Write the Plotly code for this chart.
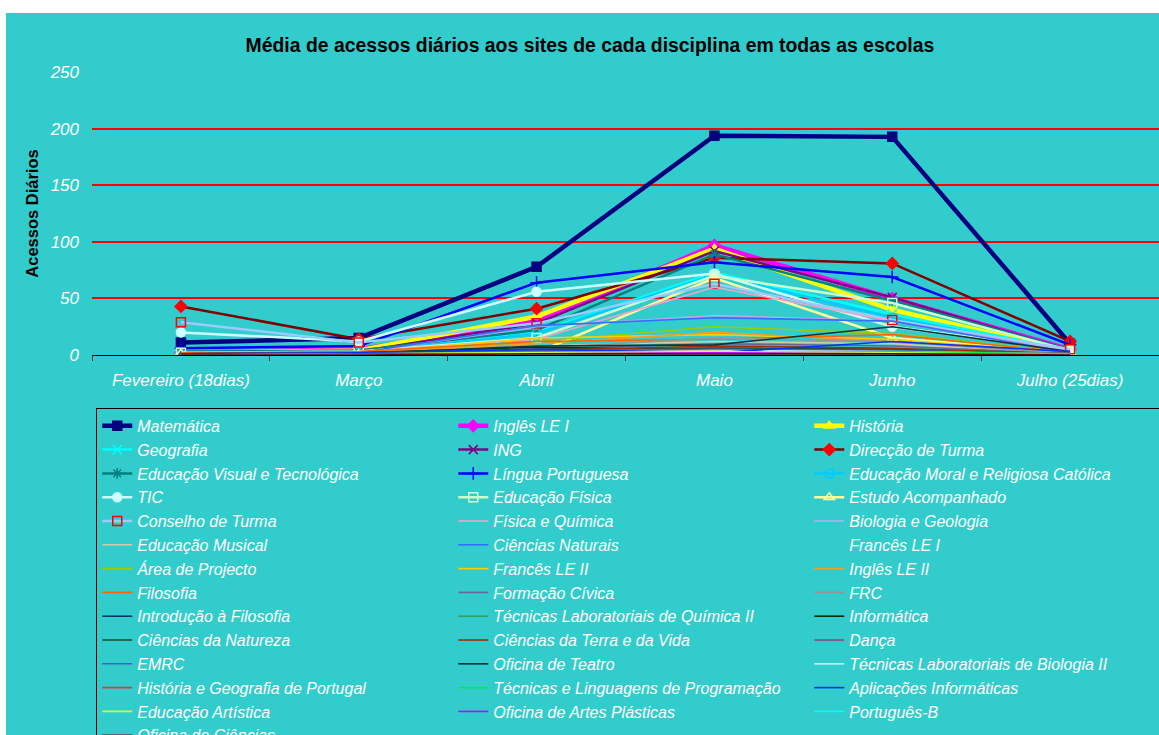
import plotly.graph_objects as go

months = ["Fevereiro (18dias)", "Março", "Abril", "Maio", "Junho", "Julho (25dias)"]

# media de acessos diarios por disciplina
matematica = [11, 15, 78, 194, 193, 10]
ingles_le_i = [2, 5, 30, 97, 50, 5]
historia = [2, 4, 34, 94, 40, 3]
geografia = [3, 4, 20, 73, 36, 4]
ing = [2, 3, 28, 92, 51, 4]
direccao_turma = [43, 14, 41, 86, 81, 12]
evt = [3, 4, 22, 89, 48, 5]
lingua_portuguesa = [6, 8, 64, 82, 69, 9]
emrc_catolica = [1, 2, 19, 71, 33, 3]
tic = [20, 12, 56, 72, 25, 4]
ed_fisica = [2, 3, 15, 70, 46, 4]
estudo_acompanhado = [1, 1, 2, 68, 15, 2]
conselho_turma = [29, 11, 28, 63, 31, 5]
fisica_quimica = [1, 3, 14, 60, 30, 3]
biologia_geologia = [1, 2, 25, 35, 30, 3]
ed_musical = [1, 2, 8, 12, 10, 1]
ciencias_naturais = [1, 2, 26, 33, 30, 2]
frances_le_i = [1, 1, 3, 5, 3, 1]
area_projecto = [1, 2, 12, 25, 19, 2]
frances_le_ii = [1, 2, 15, 18, 14, 2]
ingles_le_ii = [1, 2, 10, 20, 12, 1]
filosofia = [2, 3, 12, 14, 18, 2]
formacao_civica = [1, 1, 5, 10, 8, 1]
frc = [0, 1, 6, 15, 12, 1]
intro_filosofia = [0, 1, 4, 6, 5, 1]
tlq_ii = [0, 1, 3, 5, 4, 0]
informatica = [1, 2, 7, 4, 3, 1]
ciencias_natureza = [1, 2, 5, 6, 5, 1]
ctv = [0, 1, 4, 8, 6, 1]
danca = [0, 0, 2, 3, 2, 0]
emrc = [1, 1, 4, 5, 4, 1]
oficina_teatro = [0, 1, 8, 9, 25, 3]
tlb_ii = [0, 1, 2, 4, 3, 1]
hgp = [1, 2, 3, 3, 2, 1]
tlp = [0, 1, 2, 2, 3, 1]
aplicacoes_inf = [1, 2, 5, 2, 12, 3]
ed_artistica = [0, 1, 2, 3, 2, 0]
oficina_artes = [0, 1, 1, 2, 1, 0]
portugues_b = [0, 0, 1, 1, 1, 0]
oficina_ciencias = [0, 0, 1, 1, 1, 0]

series = [
    ("Matemática", matematica),
    ("Inglês LE I", ingles_le_i),
    ("História", historia),
    ("Geografia", geografia),
    ("ING", ing),
    ("Direcção de Turma", direccao_turma),
    ("Educação Visual e Tecnológica", evt),
    ("Língua Portuguesa", lingua_portuguesa),
    ("Educação Moral e Religiosa Católica", emrc_catolica),
    ("TIC", tic),
    ("Educação Física", ed_fisica),
    ("Estudo Acompanhado", estudo_acompanhado),
    ("Conselho de Turma", conselho_turma),
    ("Física e Química", fisica_quimica),
    ("Biologia e Geologia", biologia_geologia),
    ("Educação Musical", ed_musical),
    ("Ciências Naturais", ciencias_naturais),
    ("Francês LE I", frances_le_i),
    ("Área de Projecto", area_projecto),
    ("Francês LE II", frances_le_ii),
    ("Inglês LE II", ingles_le_ii),
    ("Filosofia", filosofia),
    ("Formação Cívica", formacao_civica),
    ("FRC", frc),
    ("Introdução à Filosofia", intro_filosofia),
    ("Técnicas Laboratoriais de Química II", tlq_ii),
    ("Informática", informatica),
    ("Ciências da Natureza", ciencias_natureza),
    ("Ciências da Terra e da Vida", ctv),
    ("Dança", danca),
    ("EMRC", emrc),
    ("Oficina de Teatro", oficina_teatro),
    ("Técnicas Laboratoriais de Biologia II", tlb_ii),
    ("História e Geografia de Portugal", hgp),
    ("Técnicas e Linguagens de Programação", tlp),
    ("Aplicações Informáticas", aplicacoes_inf),
    ("Educação Artística", ed_artistica),
    ("Oficina de Artes Plásticas", oficina_artes),
    ("Português-B", portugues_b),
    ("Oficina de Ciências", oficina_ciencias),
]

# line colour, line width, marker symbol, marker colour
marked = {
    "Matemática": ("#000080", 4.5, "square", "#000080"),
    "Inglês LE I": ("#FF00FF", 4.5, "diamond", "#FF00FF"),
    "História": ("#FFFF00", 4.5, "triangle-up", "#FFFF00"),
    "Geografia": ("#00FFFF", 2.5, "x-thin", "#00FFFF"),
    "ING": ("#800080", 2.5, "x-thin", "#800080"),
    "Direcção de Turma": ("#800000", 2.5, "diamond", "#FF0000"),
    "Educação Visual e Tecnológica": ("#008080", 2.5, "asterisk", "#008080"),
    "Língua Portuguesa": ("#0000FF", 2.5, "cross-thin", "#0000FF"),
    "Educação Moral e Religiosa Católica": ("#00CCFF", 2.5, "circle-open", "#00CCFF"),
    "TIC": ("#CCFFFF", 2.5, "circle", "#CCFFFF"),
    "Educação Física": ("#CCFFCC", 2.5, "square-open", "#CCFFCC"),
    "Estudo Acompanhado": ("#FFFF99", 2.5, "triangle-up-open", "#FFFF99"),
    "Conselho de Turma": ("#99CCFF", 2.5, "square-open", "#FF0000"),
}

thin_colors = {
    "Física e Química": "#E8A6CC",
    "Biologia e Geologia": "#C0A8F0",
    "Educação Musical": "#D0CCA8",
    "Ciências Naturais": "#3370FF",
    "Francês LE I": "#33CCCC",
    "Área de Projecto": "#99CC00",
    "Francês LE II": "#FFCC00",
    "Inglês LE II": "#F0A020",
    "Filosofia": "#FF6600",
    "Formação Cívica": "#666699",
    "FRC": "#969696",
    "Introdução à Filosofia": "#003366",
    "Técnicas Laboratoriais de Química II": "#339966",
    "Informática": "#003300",
    "Ciências da Natureza": "#1F4F35",
    "Ciências da Terra e da Vida": "#993300",
    "Dança": "#804D80",
    "EMRC": "#3D66C0",
    "Oficina de Teatro": "#103333",
    "Técnicas Laboratoriais de Biologia II": "#CCF2F2",
    "História e Geografia de Portugal": "#D04040",
    "Técnicas e Linguagens de Programação": "#00EE44",
    "Aplicações Informáticas": "#0033FF",
    "Educação Artística": "#CCFF33",
    "Oficina de Artes Plásticas": "#CC00FF",
    "Português-B": "#00FFFF",
    "Oficina de Ciências": "#700000",
}

fig = go.Figure()
for name, values in series:
    if name in marked:
        color, width, symbol, mcolor = marked[name]
        fig.add_trace(go.Scatter(
            x=months, y=values, name=name, mode="lines+markers",
            line=dict(color=color, width=width),
            marker=dict(symbol=symbol, size=9, color=mcolor,
                        line=dict(color=mcolor, width=1.5)),
        ))
    else:
        fig.add_trace(go.Scatter(
            x=months, y=values, name=name, mode="lines",
            line=dict(color=thin_colors[name], width=1.6),
        ))

font = "Liberation Sans, Arial, sans-serif"

# plot box is 92..1159 x 72..355 on the page (body margin removed below)
fig.update_layout(
    width=1159,
    height=735,
    margin=dict(l=92, r=0, t=72, b=380, autoexpand=False),
    paper_bgcolor="white",
    plot_bgcolor="rgba(0,0,0,0)",
    font=dict(family=font),
    title=dict(
        text="Média de acessos diários aos sites de cada disciplina em todas as escolas",
        font=dict(size=19.4, color="black", weight="bold"),
        x=0.509, xref="container", xanchor="center",
        y=1 - 45 / 735, yref="container", yanchor="middle",
    ),
    showlegend=True,
    legend=dict(
        orientation="h",
        x=0.004, xanchor="left",
        y=-0.187, yanchor="top",
        entrywidth=311,
        bgcolor="rgba(0,0,0,0)",
        bordercolor="black",
        borderwidth=1,
        font=dict(size=16, color="white", style="italic"),
        traceorder="normal",
    ),
    shapes=[dict(
        type="rect", xref="paper", yref="paper", layer="below",
        x0=(6 - 92) / 1067, x1=1.05, y0=-1.6, y1=(355 - 13) / 283,
        fillcolor="#33CCCC", line=dict(width=0),
    )],
)

fig.update_xaxes(
    type="category",
    range=[-0.5, 5.5],
    showgrid=False,
    showline=True, linecolor="black", linewidth=1,
    ticks="outside", tickson="boundaries", ticklen=5, tickcolor="#333333",
    tickfont=dict(size=17, color="white", style="italic"),
    ticklabelstandoff=10,
)
fig.update_yaxes(
    range=[0, 250.4],
    dtick=50,
    showgrid=True, gridcolor="#FF0000", gridwidth=2,
    zeroline=False,
    showline=False,
    ticks="",
    tickfont=dict(size=17, color="white", style="italic"),
    ticklabelstandoff=12,
    title=dict(text="Acessos Diários", font=dict(size=16.5, color="black", weight="bold"),
               standoff=6),
)

fig.write_html(
    "out.html",
    config={"displayModeBar": False},
    post_script="document.body.style.margin='0';document.body.style.overflow='hidden';",
)
